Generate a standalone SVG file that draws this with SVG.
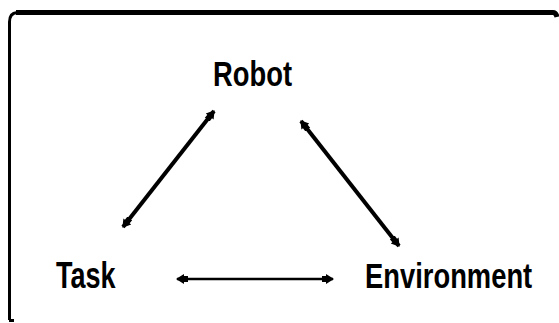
<svg xmlns="http://www.w3.org/2000/svg" width="559" height="323" viewBox="0 0 559 323">
  <style>
    .label { font-family: "Liberation Sans", Arial, sans-serif; font-weight: bold; font-size: 36px; fill: #000; }
    .link { stroke: #000; fill: none; stroke-linecap: butt; }
    .frame { stroke: #000; fill: none; }
  </style>
  <defs>
    <marker id="head" viewBox="0 0 12 10" refX="11" refY="5" markerWidth="12" markerHeight="10" markerUnits="userSpaceOnUse" orient="auto-start-reverse">
      <path d="M0,2 L4,2 L4,0 L12,5 L4,10 L4,8 L0,8 Z" fill="#000"/>
    </marker>
  </defs>

  <rect width="559" height="323" fill="#fff"/>

  <!-- open frame: heavy top rule and left rule -->
  <g id="frame">
    <path class="frame" stroke-width="5" d="M16,12.5 L553,12.5 Q556,12.5 557,17"/>
    <path class="frame" stroke-width="3" d="M9.5,320 L9.5,22 Q9.5,13 17,12.5"/>
    <path class="frame" stroke-width="3" d="M9,320.5 L14,320.5"/>
  </g>

  <!-- labels use a condensed bold face: horizontal scale 0.76 -->
  <g id="robot">
    <text class="label" transform="translate(213 86) scale(0.76 1)">Robot</text>
  </g>
  <g id="task">
    <text class="label" transform="translate(56 288) scale(0.75 1)">Task</text>
  </g>
  <g id="environment">
    <text class="label" transform="translate(365 288) scale(0.76 1)">Environment</text>
  </g>

  <g id="connectors">
    <line class="link" stroke-width="4" x1="123" y1="227" x2="214" y2="111" marker-start="url(#head)" marker-end="url(#head)"/>
    <line class="link" stroke-width="4" x1="301" y1="121" x2="399" y2="246" marker-start="url(#head)" marker-end="url(#head)"/>
    <line class="link" stroke-width="2.5" x1="177" y1="279" x2="333" y2="279" marker-start="url(#head)" marker-end="url(#head)"/>
  </g>
</svg>
